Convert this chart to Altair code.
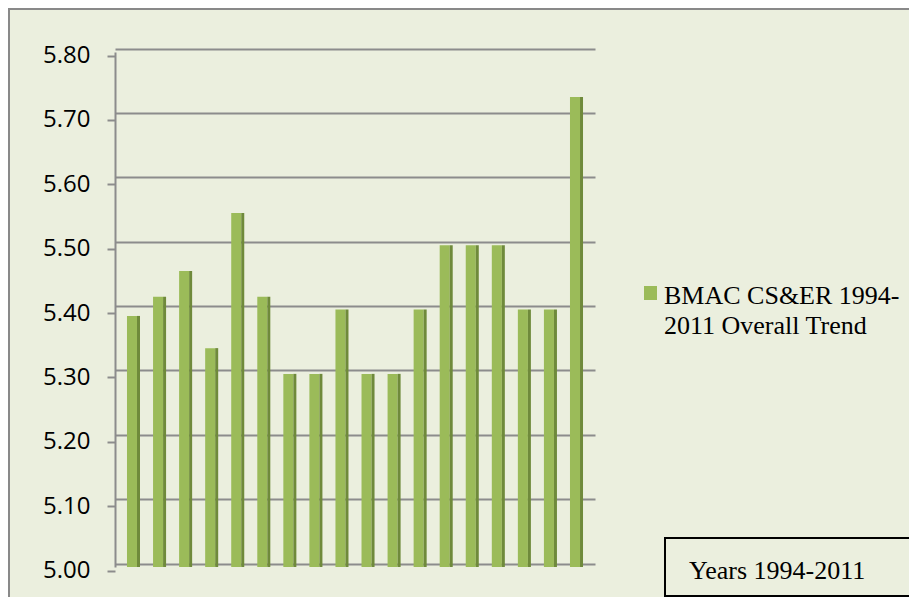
import altair as alt
import pandas as pd

years = list(range(1994, 2012))
values = [5.39, 5.42, 5.46, 5.34, 5.55, 5.42, 5.30, 5.30, 5.40,
          5.30, 5.30, 5.40, 5.50, 5.50, 5.50, 5.40, 5.40, 5.73]
y_ticks = [5.0, 5.1, 5.2, 5.3, 5.4, 5.5, 5.6, 5.7, 5.8]
series_label = "BMAC CS&ER 1994-\n2011 Overall Trend"
x_caption = "Years 1994-2011"

BG = "#EBEFDE"
GRID = "#8C8C8C"
LIGHT = "#9BBB59"
DARK = "#6F8A3B"

df = pd.DataFrame({"year": years, "idx": list(range(len(years))), "value": values})

xscale = alt.Scale(domain=[-0.71, 17.71], nice=False, zero=False)
yscale = alt.Scale(domain=[5.0, 5.8], nice=False, zero=False)

base = alt.Chart(df).transform_calculate(
    xa="datum.idx - 0.25", xb="datum.idx + 0.135", xc="datum.idx + 0.25", base="5.0"
)

light = base.mark_rect(color=LIGHT).encode(
    x=alt.X("xa:Q", scale=xscale,
            axis=alt.Axis(labels=False, ticks=False, grid=False, title=None,
                          domainColor=GRID, domainWidth=2)),
    x2="xb:Q",
    y=alt.Y("value:Q", scale=yscale,
            axis=alt.Axis(values=y_ticks, format=".2f", grid=False, tickOffset=3.5,
                          tickSize=8, tickColor=GRID, tickWidth=2, domainColor=GRID,
                          domainWidth=2, labelPadding=17, labelFont="Open Sans",
                          labelFontSize=24, labelColor="#000000", orient="left",
                          title=None)),
    y2="base:Q",
)

dark = base.mark_rect(color=DARK).encode(
    x=alt.X("xb:Q", scale=xscale, axis=None),
    x2="xc:Q",
    y=alt.Y("value:Q", scale=yscale,
            axis=alt.Axis(values=y_ticks, grid=True, gridColor=GRID, gridWidth=2,
                          labels=False, ticks=False, domain=False, tickOffset=-3.5,
                          orient="left", title=None)),
    y2="base:Q",
)

one = pd.DataFrame({"k": [0]})

border = alt.Chart(one).mark_rect(fillOpacity=0, stroke="#898989", strokeWidth=2).encode(
    x=alt.value(-106), x2=alt.value(900), y=alt.value(-43), y2=alt.value(600)
)

legend_sq = alt.Chart(one).mark_rect(color=LIGHT).encode(
    x=alt.value(529), x2=alt.value(542), y=alt.value(234), y2=alt.value(248)
)

legend_txt = alt.Chart(pd.DataFrame({"t": [series_label]})).mark_text(
    align="left", baseline="alphabetic", font="Liberation Serif", fontSize=26,
    lineBreak="\n", lineHeight=30, color="#000000"
).encode(text="t:N", x=alt.value(549), y=alt.value(252))

box = alt.Chart(one).mark_rect(fill=BG, stroke="#000000", strokeWidth=2).encode(
    x=alt.value(550), x2=alt.value(830), y=alt.value(486), y2=alt.value(544)
)

box_txt = alt.Chart(pd.DataFrame({"t": [x_caption]})).mark_text(
    align="left", baseline="alphabetic", font="Liberation Serif", fontSize=26,
    color="#000000"
).encode(text="t:N", x=alt.value(574), y=alt.value(527))

chart = alt.layer(border, light, dark, legend_sq, legend_txt, box, box_txt).resolve_axis(
    y="independent"
).properties(
    width=480, height=515,
    autosize=alt.AutoSizeParams(type="none"),
    padding={"left": 107, "top": 44, "right": 314, "bottom": 30},
    background=BG,
).configure_view(stroke=None)

chart.save("out.html", embed_options={"renderer": "svg", "actions": False})
